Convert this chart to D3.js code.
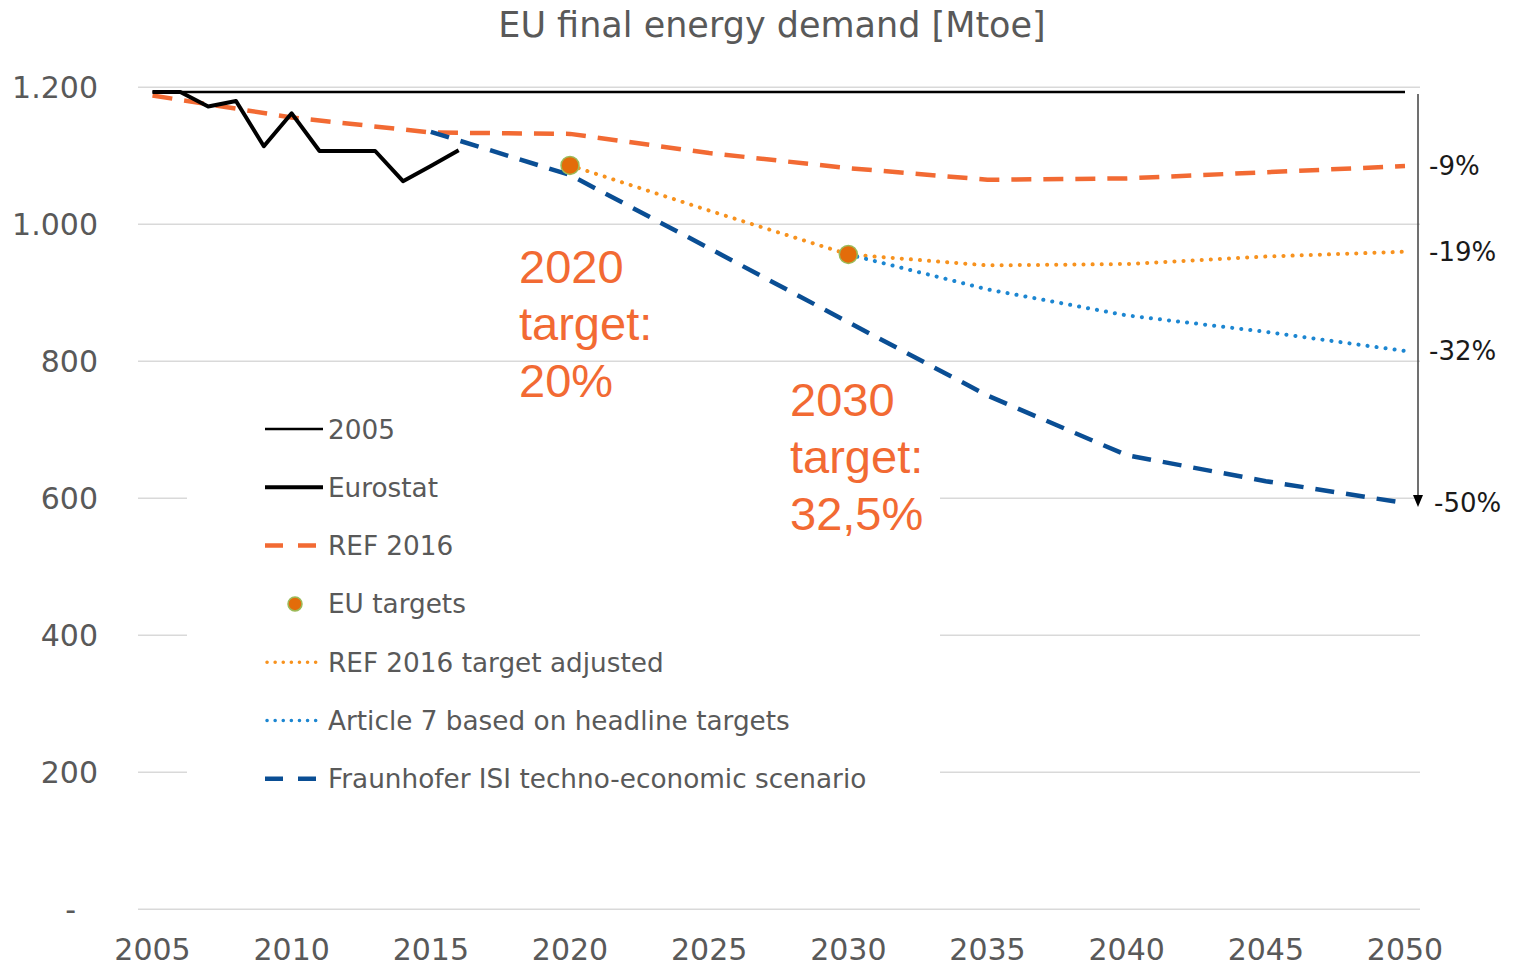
<!DOCTYPE html>
<html>
<head>
<meta charset="utf-8">
<script src="https://cdn.jsdelivr.net/npm/d3@7"></script>
<style>
  body { margin: 0; background: #fff; }
  svg { display: block; }
</style>
</head>
<body>
<script>
// values (Mtoe)
const eurostatYears = [2005, 2006, 2007, 2008, 2009, 2010, 2011, 2012, 2013, 2014, 2015, 2016]
const eurostatValues = [1193, 1193, 1172, 1180, 1114, 1162, 1107, 1107, 1107, 1063, 1085, 1108]

const baseYears = [2005, 2050]
const baseValues = [1193, 1193]

const refYears = [2005, 2010, 2015, 2020, 2025, 2030, 2035, 2040, 2045, 2050]
const refValues = [1188, 1156, 1134, 1132, 1104, 1082, 1065, 1067, 1076, 1085]

const targetYears = [2020, 2030]
const targetValues = [1086, 956]

const adjYears = [2020, 2025, 2030, 2035, 2040, 2045, 2050]
const adjValues = [1086, 1020, 956, 940, 942, 953, 960]

const art7Years = [2030, 2035, 2040, 2045, 2050]
const art7Values = [956, 905, 867, 843, 815]

const fhgYears = [2015, 2020, 2025, 2030, 2035, 2040, 2045, 2050]
const fhgValues = [1135, 1072, 965, 857, 750, 663, 625, 593]

const yTicks = [0, 200, 400, 600, 800, 1000, 1200]
const xTicks = [2005, 2010, 2015, 2020, 2025, 2030, 2035, 2040, 2045, 2050]
const pctLabels = ['-9%', '-19%', '-32%', '-50%']
const legendLabels = ['2005', 'Eurostat', 'REF 2016', 'EU targets', 'REF 2016 target adjusted',
  'Article 7 based on headline targets', 'Fraunhofer ISI techno-economic scenario']
const note2020 = ['2020', 'target:', '20%']
const note2030 = ['2030', 'target:', '32,5%']

const width = 1514
const height = 966
const ORANGE = '#F26A33'
const ORANGE_DOT = '#F7921E'
const BLUE_DOT = '#1C86D1'
const BLUE_DASH = '#0A4E94'
const GREY = '#595959'
const FONT = 'Verdana, "DejaVu Sans", sans-serif'

const svg = d3.select('body').append('svg').attr('width', width).attr('height', height)

const x = d3.scaleLinear().domain([2005, 2050]).range([152.5, 1405])
const y = d3.scaleLinear().domain([0, 1200]).range([909.3, 87.3])

const de = d3.formatLocale({ decimal: ',', thousands: '.', grouping: [3], currency: ['', ''] })
const fmt = de.format(',')

// title
svg.append('text').attr('x', 772).attr('y', 37).attr('text-anchor', 'middle')
  .attr('font-family', FONT).attr('font-size', 35).attr('fill', GREY)
  .text('EU final energy demand [Mtoe]')

// gridlines
svg.append('g').selectAll('line').data(yTicks).enter().append('line')
  .attr('x1', 138).attr('x2', 1420)
  .attr('y1', d => y(d)).attr('y2', d => y(d))
  .attr('stroke', '#d9d9d9').attr('stroke-width', 1.5)

// y labels
svg.append('g').selectAll('text').data(yTicks).enter().append('text')
  .attr('x', d => d === 0 ? 76 : 98).attr('y', d => y(d) + 11)
  .attr('text-anchor', 'end').attr('font-family', FONT).attr('font-size', 30).attr('fill', GREY)
  .text(d => d === 0 ? '-' : fmt(d))

// x labels
svg.append('g').selectAll('text').data(xTicks).enter().append('text')
  .attr('x', d => x(d)).attr('y', 960)
  .attr('text-anchor', 'middle').attr('font-family', FONT).attr('font-size', 30).attr('fill', GREY)
  .text(d => d)

// legend area hides gridlines
svg.append('rect').attr('x', 187).attr('y', 385).attr('width', 753).attr('height', 505).attr('fill', '#fff')

const line = d3.line().x(d => x(d[0])).y(d => y(d[1]))
const pairs = (ys, vs) => ys.map((yr, i) => [yr, vs[i]])

const series = [
  { data: pairs(baseYears, baseValues), color: '#000', w: 2.5, dash: null },
  { data: pairs(refYears, refValues), color: ORANGE, w: 4.5, dash: '20 12' },
  { data: pairs(adjYears, adjValues), color: ORANGE_DOT, w: 4, dash: '0.1 9', cap: 'round' },
  { data: pairs(art7Years, art7Values), color: BLUE_DOT, w: 4, dash: '0.1 9', cap: 'round' },
  { data: pairs(fhgYears, fhgValues), color: BLUE_DASH, w: 4.5, dash: '19 12' },
  { data: pairs(eurostatYears, eurostatValues), color: '#000', w: 4, dash: null }
]

svg.append('g').selectAll('path').data(series).enter().append('path')
  .attr('d', d => line(d.data))
  .attr('fill', 'none')
  .attr('stroke', d => d.color)
  .attr('stroke-width', d => d.w)
  .attr('stroke-dasharray', d => d.dash)
  .attr('stroke-linecap', d => d.cap || 'butt')
  .attr('stroke-linejoin', 'round')

svg.append('g').selectAll('circle').data(pairs(targetYears, targetValues)).enter().append('circle')
  .attr('cx', d => x(d[0])).attr('cy', d => y(d[1])).attr('r', 9)
  .attr('fill', '#E36C0A').attr('stroke', '#9BBB59').attr('stroke-width', 1.5)

// arrow on the right
const ax = 1418
svg.append('line').attr('x1', ax).attr('x2', ax)
  .attr('y1', y(baseValues[1]) + 2).attr('y2', y(fhgValues[fhgValues.length - 1]) - 6)
  .attr('stroke', '#404040').attr('stroke-width', 1.5)
const tipY = y(fhgValues[fhgValues.length - 1]) + 4
svg.append('path').attr('d', `M${ax - 5},${tipY - 12}L${ax + 5},${tipY - 12}L${ax},${tipY}Z`).attr('fill', '#000')

// percentage labels at end values
const endValues = [refValues, adjValues, art7Values, fhgValues].map(a => a[a.length - 1])
svg.append('g').selectAll('text').data(pctLabels).enter().append('text')
  .attr('x', (d, i) => i === 3 ? 1434 : 1429).attr('y', (d, i) => y(endValues[i]) + 9)
  .attr('font-family', FONT).attr('font-size', 26).attr('fill', '#1a1a1a')
  .text(d => d)

// legend
const legend = svg.append('g')
const rowY = i => 429 + i * 58.3
legendLabels.forEach((lab, i) => {
  const cy = rowY(i)
  if (i === 0) legend.append('line').attr('x1', 265).attr('x2', 323).attr('y1', cy).attr('y2', cy).attr('stroke', '#000').attr('stroke-width', 2.5)
  if (i === 1) legend.append('line').attr('x1', 265).attr('x2', 323).attr('y1', cy).attr('y2', cy).attr('stroke', '#000').attr('stroke-width', 4)
  if (i === 2) legend.append('line').attr('x1', 265).attr('x2', 318).attr('y1', cy).attr('y2', cy).attr('stroke', ORANGE).attr('stroke-width', 4.5).attr('stroke-dasharray', '18 15')
  if (i === 3) legend.append('circle').attr('cx', 295).attr('cy', cy).attr('r', 7).attr('fill', '#E36C0A').attr('stroke', '#9BBB59').attr('stroke-width', 1.5)
  if (i === 4) legend.append('line').attr('x1', 267).attr('x2', 323).attr('y1', cy).attr('y2', cy).attr('stroke', ORANGE_DOT).attr('stroke-width', 3.5).attr('stroke-dasharray', '0.1 8').attr('stroke-linecap', 'round')
  if (i === 5) legend.append('line').attr('x1', 267).attr('x2', 323).attr('y1', cy).attr('y2', cy).attr('stroke', BLUE_DOT).attr('stroke-width', 3.5).attr('stroke-dasharray', '0.1 8').attr('stroke-linecap', 'round')
  if (i === 6) legend.append('line').attr('x1', 265).attr('x2', 318).attr('y1', cy).attr('y2', cy).attr('stroke', BLUE_DASH).attr('stroke-width', 4.5).attr('stroke-dasharray', '18 15')
  legend.append('text').attr('x', 328).attr('y', cy + 9.5)
    .attr('font-family', FONT).attr('font-size', 26.3).attr('fill', GREY).text(lab)
})

// target notes
const addNote = (lines, nx, ny) => {
  svg.append('g').selectAll('text').data(lines).enter().append('text')
    .attr('x', nx).attr('y', (d, i) => ny + i * 57)
    .attr('font-family', '"Liberation Sans", Arial, sans-serif').attr('font-size', 47).attr('fill', ORANGE)
    .text(d => d)
}
addNote(note2020, 519, 283)
addNote(note2030, 790, 416)
</script>
</body>
</html>
